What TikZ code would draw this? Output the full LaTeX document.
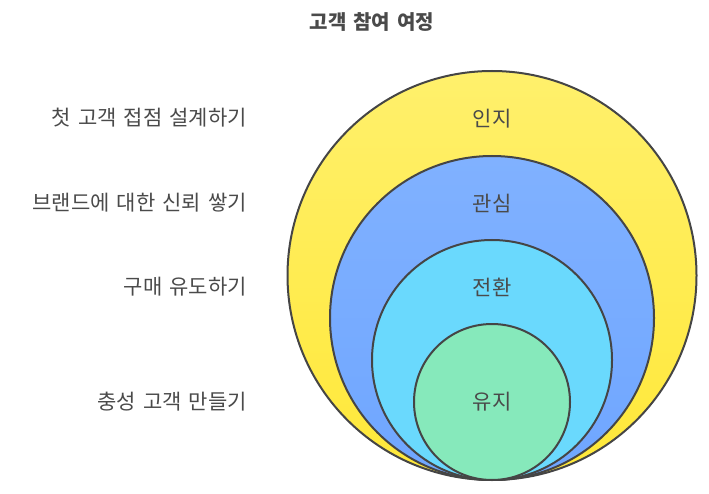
\documentclass[tikz,border=0pt]{standalone}
\usepackage{fontspec}
\setmainfont{Noto Sans CJK KR}[WordSpace=1.5]
\usetikzlibrary{positioning}
\definecolor{ringline}{HTML}{454545}
\definecolor{labeltext}{HTML}{4A4A4A}
\definecolor{awaretop}{HTML}{FFF06C}
\definecolor{awarebot}{HTML}{FFE838}
\definecolor{interesttop}{HTML}{80B1FF}
\definecolor{interestbot}{HTML}{6FA6FF}
\definecolor{convertfill}{HTML}{6AD9FD}
\definecolor{retainfill}{HTML}{86E9BB}
\tikzset{
    ring/.style={circle, draw=ringline, line width=2pt, inner sep=0pt},
    stage/.style={text=labeltext, font=\fontsize{21}{24}\selectfont, inner sep=0pt},
    goal/.style={stage, anchor=east},
}

\begin{document}
\begin{tikzpicture}[x=1pt, y=-1pt]
    \useasboundingbox (0,0) rectangle (709,494);

    \node[font=\bfseries\fontsize{20}{23}\selectfont, text=labeltext] (title) at (372,22) {고객 참여 여정};

    % nested rings, tangent at the bottom
    \node[ring, minimum size=409pt, top color=awaretop, bottom color=awarebot] (aware) at (492,275.5) {};
    \node[ring, minimum size=324pt, top color=interesttop, bottom color=interestbot] (interest) at (492,318) {};
    \node[ring, minimum size=240pt, fill=convertfill] (convert) at (492,360) {};
    \node[ring, minimum size=156pt, fill=retainfill] (retain) at (492,402) {};

    \node[stage, below=38.5pt of aware.north] (awaretxt) {인지};
    \node[stage, below=39pt of interest.north] (interesttxt) {관심};
    \node[stage, below=39pt of convert.north] (converttxt) {전환};
    \node[stage] (retaintxt) at (retain) {유지};

    \node[goal] (awaregoal) at (247,118) {첫 고객 접점 설계하기};
    \node[goal] (interestgoal) at (247,203) {브랜드에 대한 신뢰 쌓기};
    \node[goal] (convertgoal) at (247,287) {구매 유도하기};
    \node[goal] (retaingoal) at (247,402) {충성 고객 만들기};
\end{tikzpicture}
\end{document}
